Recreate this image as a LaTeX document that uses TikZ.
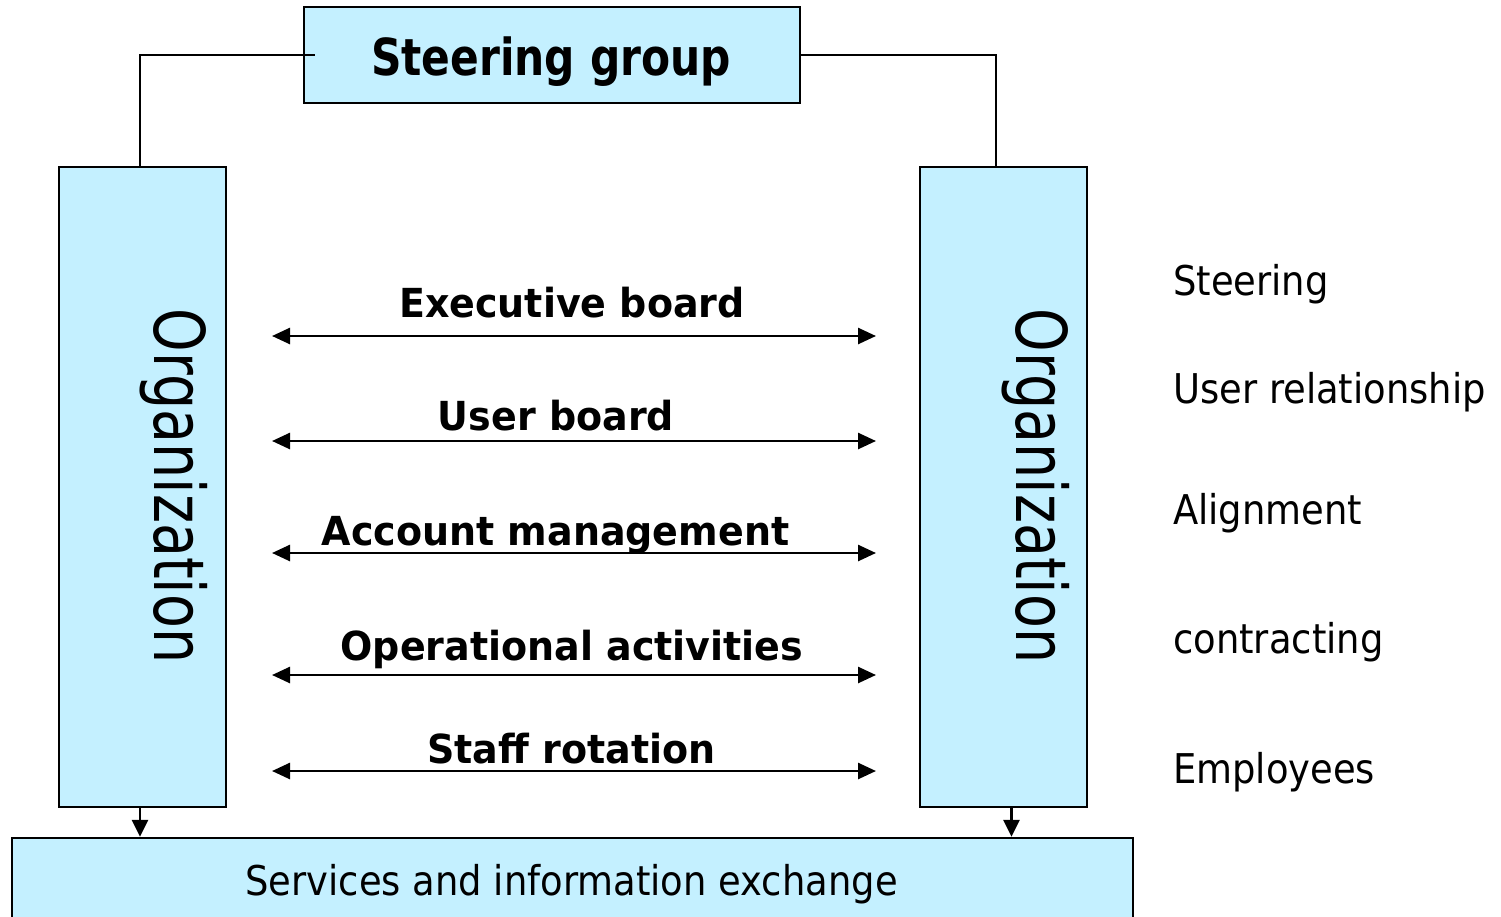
\documentclass[tikz,border=0pt]{standalone}
\usepackage{fontspec}
\setmainfont{DejaVu Sans}[FakeStretch=0.9, BoldFeatures={FakeStretch=0.95}]
\usepackage{tikz}
\usetikzlibrary{arrows.meta, calc, positioning}
\definecolor{panelblue}{RGB}{196,240,255}

\begin{document}
\begin{tikzpicture}[
	x=1pt, y=-1pt,
	texts/.style = {text=black, inner sep=0pt},
	headtexts/.style = {texts, anchor=base, font=\fontsize{51}{60}\selectfont\bfseries},
	boardtexts/.style = {texts, anchor=base, font=\fontsize{40}{48}\selectfont\bfseries},
	sidetexts/.style = {texts, anchor=base west, font=\fontsize{41}{49}\selectfont},
	orgtexts/.style = {texts, anchor=base, rotate=-90, font=\fontsize{70}{84}\selectfont},
	panel/.style = {rectangle, draw=black, line width=2.4pt, fill=panelblue, inner sep=0pt},
	link/.style = {draw=black, line width=2pt},
	flow/.style = {draw=black, line width=2.6pt, {Triangle[length=18pt, width=16pt]}-{Triangle[length=18pt, width=16pt]}},
	feed/.style = {draw=black, line width=2.6pt, -{Triangle[length=17pt, width=16pt]}}
]
	\useasboundingbox (0,0) rectangle (1501,916);
	\clip (0,0) rectangle (1501,916);

	\node[panel, minimum width=496, minimum height=96] (steer) at (552,55) {};
	\node[headtexts] (steertext) at (551,75) {\scalebox{0.875}[1]{Steering group}};

	\node[panel, minimum width=167, minimum height=640] (orgL) at (142.5,487) {};
	\node[panel, minimum width=167, minimum height=640] (orgR) at (1003.5,487) {};
	\node[orgtexts] (orgLtext) at (154,486) {\scalebox{0.88}[1]{Organization}};
	\node[orgtexts] (orgRtext) at (1016,486) {\scalebox{0.88}[1]{Organization}};

	\node[panel, minimum width=1121, minimum height=90] (services) at (572.5,883) {};
	\node[texts, anchor=base, font=\fontsize{41}{49}\selectfont] (servicestext) at (571.5,895) {Services and information exchange};

	\draw[link] ([xshift=12]steer.west) -| ([xshift=-2.5]orgL.north);
	\draw[link] (steer.east) -| ([xshift=-7.5]orgR.north);
	\draw[feed] ([xshift=-2.5]orgL.south) -- ([xshift=-2.5]orgL.south |- services.north);
	\draw[feed] ([xshift=8]orgR.south) -- ([xshift=8]orgR.south |- services.north);

	\coordinate (execL) at (272,336);
	\coordinate (execR) at (876,336);
	\coordinate (userL) at (272,441);
	\coordinate (userR) at (876,441);
	\coordinate (accountL) at (272,553);
	\coordinate (accountR) at (876,553);
	\coordinate (operL) at (272,675);
	\coordinate (operR) at (876,675);
	\coordinate (staffL) at (272,771);
	\coordinate (staffR) at (876,771);
	\draw[flow] (execL) -- (execR);
	\draw[flow] (userL) -- (userR);
	\draw[flow] (accountL) -- (accountR);
	\draw[flow] (operL) -- (operR);
	\draw[flow] (staffL) -- (staffR);

	\node[boardtexts] (exec) at (572,317) {Executive board};
	\node[boardtexts] (user) at (556,430) {User board};
	\node[boardtexts] (account) at (555.5,545) {Account management};
	\node[boardtexts] (oper) at (572,660) {Operational activities};
	\node[boardtexts] (staff) at (571.5,763) {Staff rotation};

	\node[sidetexts] (steering) at (1173,295) {Steering};
	\node[sidetexts] (relation) at (1173,403) {User relationship};
	\node[sidetexts] (align) at (1173,524) {Alignment};
	\node[sidetexts] (contract) at (1173,653) {contracting};
	\node[sidetexts] (staffing) at (1173,783) {Employees};
\end{tikzpicture}
\end{document}
